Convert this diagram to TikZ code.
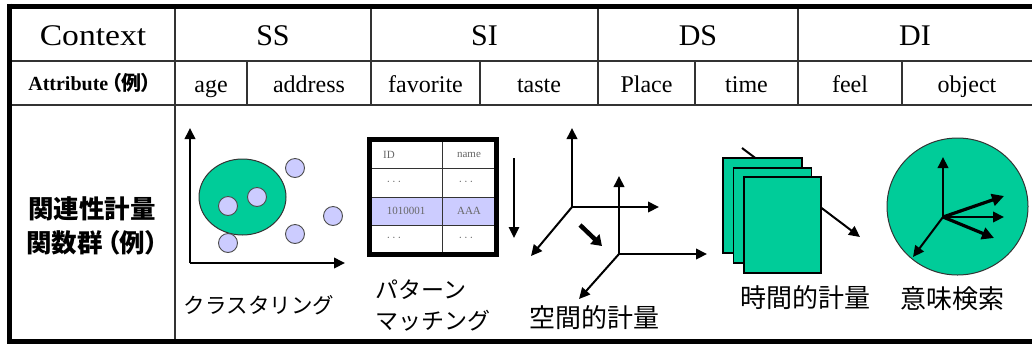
\documentclass[tikz,border=0pt]{standalone}
\usepackage{fontspec}
\setmainfont{Liberation Serif}
\newfontfamily\jp{Noto Sans CJK JP}
\newfontfamily\jpprop[RawFeature=+palt]{Noto Sans CJK JP}
\usetikzlibrary{arrows.meta}

\definecolor{mint}{HTML}{00CC99}
\definecolor{lilac}{HTML}{CCCCFF}
\definecolor{rulegray}{HTML}{333333}

\tikzset{
  rule/.style={draw=rulegray, line width=1.3pt},
  frame/.style={draw=black, line width=5pt},
  hdr/.style={font=\fontsize{30}{34}\selectfont, inner sep=0pt, anchor=base},
  attr/.style={font=\fontsize{24}{28}\selectfont, inner sep=0pt, anchor=base},
  kanji/.style={font=\jp\fontsize{26}{30}\selectfont, inner sep=0pt},
  kana/.style={font=\jp\fontsize{21.5}{25}\selectfont, inner sep=0pt},
  tip/.style={-{Triangle[length=11pt,width=10.5pt]}},
  axis/.style={draw=black, line width=2pt, tip},
  boldarrow/.style={draw=black, line width=4.5pt, -{Triangle[length=10pt,width=13pt]}},
  fatarrow/.style={draw=black, line width=3.2pt, -{Triangle[length=12pt,width=12pt]}},
  dot/.style={circle, draw=black!70, fill=lilac, line width=0.9pt, minimum size=19pt, inner sep=0pt},
  sheet/.style={draw=black, fill=mint, line width=1.5pt},
  cell/.style={font=\fontsize{11}{12}\selectfont, text=black!60, inner sep=0pt},
}

\begin{document}
\begin{tikzpicture}[x=1pt, y=-1pt]
\useasboundingbox (0,0) rectangle (1032,349);

% ---------- table grid ----------
\draw[rule] (9,61) -- (1032,61);
\draw[rule] (9,105) -- (1032,105);
\draw[rule] (175,6) -- (175,341);
\foreach \x in {371,598,798} \draw[rule] (\x,6) -- (\x,105);
\foreach \x in {247,480,695,902} \draw[rule] (\x,61) -- (\x,105);
\draw[frame] (9.5,3.5) -- (9.5,343.5);
\draw[frame] (7,6) -- (1032,6);
\draw[frame] (7,341) -- (1032,341);

% ---------- header row ----------
\node[hdr, xscale=1.12] (hctx) at (93,45) {Context};
\node[hdr] (hss)  at (273,45) {SS};
\node[hdr] (hsi)  at (484.5,45) {SI};
\node[hdr] (hds)  at (698,45) {DS};
\node[hdr] (hdi)  at (915,45) {DI};

% ---------- attribute row ----------
\node[inner sep=0pt, anchor=base, font=\fontsize{20}{24}\selectfont\bfseries] (hattr) at (90,90)
  {Attribute{\jpprop\,（例）}};
\node[attr] (aage)  at (211,92) {age};
\node[attr] (aaddr) at (309,92) {address};
\node[attr] (afav)  at (425.5,92) {favorite};
\node[attr] (ataste) at (539,92) {taste};
\node[attr] (aplace) at (646.5,92) {Place};
\node[attr] (atime) at (746.5,92) {time};
\node[attr] (afeel) at (850,92) {feel};
\node[attr] (aobj)  at (967,92) {object};

% ---------- row label ----------
\node[font=\jpprop\bfseries\fontsize{25.5}{34}\selectfont, inner sep=0pt, align=center] (hfun) at (92,226)
  {関連性計量\\関数群\,（例）};

% ---------- clustering ----------
\coordinate (co) at (190,263);
\coordinate (cy) at (190,128);
\coordinate (cx) at (345,263);
\draw[axis] (co) -- (cy);
\draw[axis] (co) -- (cx);
\draw[draw=black!80, fill=mint, line width=1pt] (242.5,197) ellipse [x radius=43.5, y radius=38];
\node[dot] (d1) at (295,168) {};
\node[dot] (d2) at (228,206) {};
\node[dot] (d3) at (257,197) {};
\node[dot] (d4) at (333,216) {};
\node[dot] (d5) at (295,234) {};
\node[dot] (d6) at (228,243) {};
\node[kana] (lclu) at (259,305) {クラスタリング};

% ---------- pattern matching ----------
\fill[lilac] (372,197) rectangle (494,225);
\draw[rule, line width=1pt] (372,168) -- (494,168);
\draw[rule, line width=1pt] (372,197) -- (494,197);
\draw[rule, line width=1pt] (372,225) -- (494,225);
\draw[rule, line width=1pt] (442,139) -- (442,254);
\draw[frame] (369.5,139.5) rectangle (496.5,254.5);
\node[cell, anchor=west] (tid) at (383,155) {ID};
\node[cell] (tname) at (469,155) {name};
\node[cell] (t1a) at (394,183) {·\,·\,·};
\node[cell] (t1b) at (466,183) {·\,·\,·};
\node[cell] (t2a) at (406,211) {1010001};
\node[cell] (t2b) at (469,211) {AAA};
\node[cell] (t3a) at (394,239) {·\,·\,·};
\node[cell] (t3b) at (466,239) {·\,·\,·};
\coordinate (scanA) at (514,158);
\coordinate (scanB) at (514,238);
\draw[axis, line width=1.6pt] (scanA) -- (scanB);
\node[font=\jp\fontsize{23}{31}\selectfont, inner sep=0pt, align=left, anchor=west] (lpat) at (375,305.5)
  {パターン\\マッチング};

% ---------- spatial measure ----------
\coordinate (s1o) at (572,207);
\coordinate (s1y) at (572,128);
\coordinate (s1x) at (659,207);
\coordinate (s1z) at (531,256);
\draw[axis] (s1o) -- (s1y);
\draw[axis] (s1o) -- (s1x);
\draw[axis] (s1o) -- (s1z);
\coordinate (s2o) at (619,254);
\coordinate (s2y) at (619,176);
\coordinate (s2x) at (707,254);
\coordinate (s2z) at (579,299);
\draw[axis] (s2o) -- (s2y);
\draw[axis] (s2o) -- (s2x);
\draw[axis] (s2o) -- (s2z);
\coordinate (mvA) at (580,225);
\coordinate (mvB) at (602,246);
\draw[boldarrow] (mvA) -- (mvB);
\node[kanji] (lspa) at (594,318) {空間的計量};

% ---------- temporal measure ----------
\coordinate (tA) at (742,148);
\coordinate (tB) at (860,237);
\draw[axis] (tA) -- (tB);
\draw[sheet] (723,158) rectangle (802,253);
\draw[sheet] (733.5,168) rectangle (811.5,263);
\draw[sheet] (744,177) rectangle (821,273);
\node[kanji] (ltim) at (805,298) {時間的計量};

% ---------- semantic search ----------
\draw[draw=black!80, fill=mint, line width=1pt] (957.5,206.5) ellipse [x radius=70.5, y radius=68.5];
\coordinate (mo) at (943,217);
\coordinate (my) at (943,157);
\coordinate (mz) at (913,257);
\coordinate (m1) at (1004,196);
\coordinate (m2) at (1004,217);
\coordinate (m3) at (994,238);
\draw[axis] (mo) -- (my);
\draw[axis] (mo) -- (mz);
\draw[axis] (mo) -- (m2);
\draw[fatarrow] (mo) -- (m1);
\draw[fatarrow] (mo) -- (m3);
\node[kanji] (lsem) at (952,299) {意味検索};

\end{tikzpicture}
\end{document}
